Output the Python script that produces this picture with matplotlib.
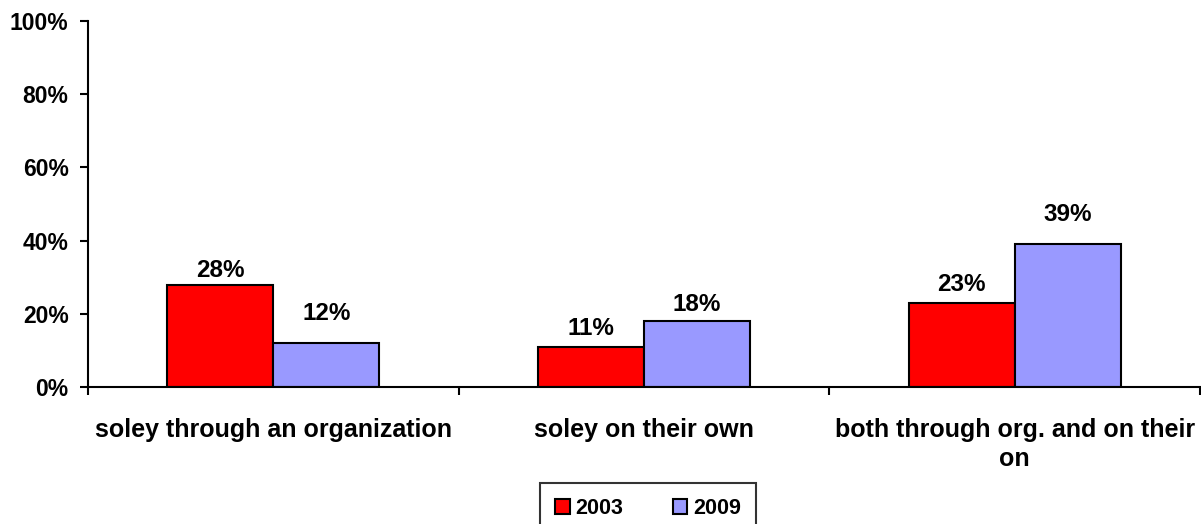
import numpy as np
import matplotlib.pyplot as plt
from matplotlib.ticker import FixedLocator, NullFormatter

plt.rcParams['font.family'] = ['Liberation Sans', 'DejaVu Sans']
plt.rcParams['font.weight'] = 'bold'

# data
categories = ['soley through an organization', 'soley on their own',
              'both through org. and on their\non']
years = ['2003', '2009']
vals_2003 = [28, 11, 23]
vals_2009 = [12, 18, 39]
yticks = [0, 20, 40, 60, 80, 100]

# label offsets above bar tops (points), excel put some higher
off_2003 = [2, 5, 5]
off_2009 = [13, 4, 13]

fig = plt.figure(figsize=(12.01, 5.24), dpi=100)
ax = fig.add_axes([88/1201, (524-387)/524, 1112/1201, 366/524])

x = np.arange(len(categories))
w = 0.286
b1 = ax.bar(x - w/2, vals_2003, w, color='#FF0000', edgecolor='black', linewidth=1.5, label=years[0])
b2 = ax.bar(x + w/2, vals_2009, w, color='#9999FF', edgecolor='black', linewidth=1.5, label=years[1])

for bars, vals, offs in [(b1, vals_2003, off_2003), (b2, vals_2009, off_2009)]:
    for r, v, o in zip(bars, vals, offs):
        ax.annotate(f'{v}%', (r.get_x() + r.get_width()/2, r.get_height()),
                    xytext=(0, o), textcoords='offset points',
                    ha='center', va='bottom', fontsize=17.5, fontweight='bold')

ax.set_xlim(-0.5, 2.5)
ax.set_ylim(0, 100)
ax.set_yticks(yticks)
ax.set_yticklabels([f'{t}%' for t in yticks], fontsize=16.5, fontweight='bold')
ax.tick_params(axis='y', length=6, width=1.5, pad=8, direction='out')

# category separators as major ticks, names as minor tick labels
ax.xaxis.set_major_locator(FixedLocator([-0.5, 0.5, 1.5, 2.5]))
ax.xaxis.set_major_formatter(NullFormatter())
ax.xaxis.set_minor_locator(FixedLocator(x))
ax.set_xticklabels(categories, minor=True, fontsize=18, fontweight='bold', linespacing=1.3)
ax.tick_params(axis='x', which='major', length=6, width=1.5, direction='out')
ax.tick_params(axis='x', which='minor', length=0, pad=22)

for s in ['top', 'right']:
    ax.spines[s].set_visible(False)
for s in ['left', 'bottom']:
    ax.spines[s].set_linewidth(1.5)

leg = fig.legend(loc='upper center', bbox_to_anchor=(648/1201, 1 - 483/524), ncol=2,
                 fontsize=15.5, frameon=True, fancybox=False, edgecolor='black',
                 handlelength=0.68, handleheight=0.68, handletextpad=0.25,
                 columnspacing=2.3, borderpad=0.7, borderaxespad=0)
leg.get_frame().set_linewidth(1.5)
for t in leg.get_texts():
    t.set_fontweight('bold')

fig.savefig('out.png', dpi=100)
